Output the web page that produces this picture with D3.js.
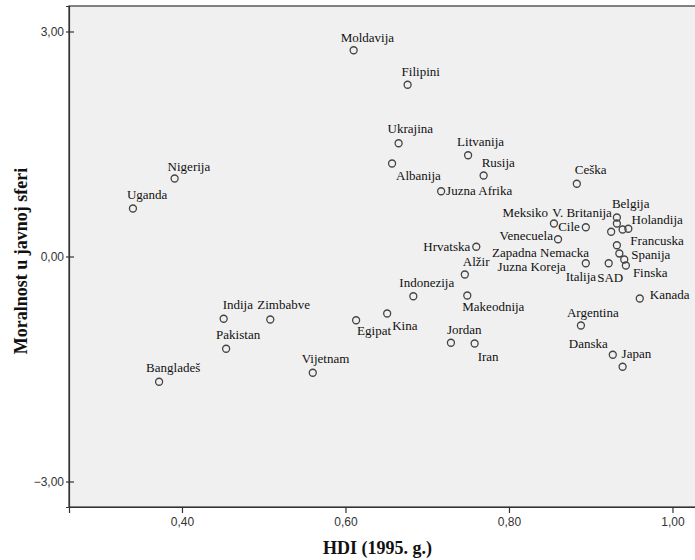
<!DOCTYPE html>
<html>
<head>
<meta charset="utf-8">
<script src="https://cdn.jsdelivr.net/npm/d3@7"></script>
<style>
    body { margin: 0; background: #fff; }
    svg { display: block; }
</style>
</head>
<body>
<div id="chart_div"></div>
<script>
// Countries, HDI (1995) and "Moralnost u javnoj sferi" score
const countries = [
    "Moldavija", "Filipini", "Ukrajina", "Albanija", "Litvanija", "Rusija", "Juzna Afrika",
    "Nigerija", "Uganda", "Ceška", "Meksiko", "V. Britanija", "Cile", "Venecuela",
    "Belgija", "Holandija", "Francuska", "Zapadna Nemacka", "", "Spanija", "SAD",
    "Finska", "Italija", "Juzna Koreja", "Hrvatska", "Alžir", "Indonezija", "Makeodnija",
    "Kina", "Egipat", "Jordan", "Iran", "Argentina", "Kanada", "Danska", "Japan",
    "Indija", "Zimbabve", "Pakistan", "Bangladeš", "Vijetnam"
];
const hdi = [
    0.610, 0.676, 0.665, 0.657, 0.750, 0.769, 0.717,
    0.391, 0.340, 0.883, 0.855, 0.932, 0.894, 0.860,
    0.932, 0.939, 0.946, 0.925, 0.932, 0.935, 0.941,
    0.943, 0.922, 0.894, 0.760, 0.746, 0.683, 0.749,
    0.651, 0.613, 0.729, 0.758, 0.888, 0.960, 0.927, 0.939,
    0.451, 0.508, 0.454, 0.372, 0.560
];
const morality = [
    2.75, 2.29, 1.51, 1.24, 1.35, 1.08, 0.87,
    1.04, 0.64, 0.97, 0.44, 0.44, 0.39, 0.23,
    0.52, 0.36, 0.37, 0.33, 0.15, 0.04, -0.04,
    -0.12, -0.09, -0.09, 0.13, -0.24, -0.53, -0.52,
    -0.76, -0.85, -1.15, -1.16, -0.92, -0.56, -1.31, -1.47,
    -0.83, -0.84, -1.23, -1.67, -1.55
];
const xTicks = [0.4, 0.6, 0.8, 1.0];
const yTicks = [-3, 0, 3];

// label placement (text-anchor, dx, dy in px from the point), like SPSS put them
const labelPlace = {
    "Moldavija": ["start", -13, -8], "Filipini": ["start", -6, -9], "Ukrajina": ["start", -11, -10],
    "Albanija": ["start", 4, 16], "Litvanija": ["start", -11, -9], "Rusija": ["start", -2, -9],
    "Juzna Afrika": ["start", 5, 4], "Nigerija": ["start", -7, -8], "Uganda": ["start", -6, -10],
    "Ceška": ["start", -2, -10], "Meksiko": ["end", -6, -7], "V. Britanija": ["end", -5, -7],
    "Cile": ["end", -6, 4], "Venecuela": ["end", -5, 1], "Belgija": ["start", -5, -10],
    "Holandija": ["start", 9, -6], "Francuska": ["start", 2, 16], "Zapadna Nemacka": ["end", -22, 25],
    "Spanija": ["start", 12, 5], "SAD": ["start", -27, 22], "Finska": ["start", 7, 11],
    "Italija": ["start", -43, 18], "Juzna Koreja": ["end", -20, 8], "Hrvatska": ["end", -6, 4],
    "Alžir": ["start", -2, -9], "Indonezija": ["start", -14, -9], "Makeodnija": ["start", -5, 15],
    "Kina": ["start", 5, 16], "Egipat": ["start", 1, 15], "Jordan": ["start", -4, -9],
    "Iran": ["start", 3, 17], "Argentina": ["start", -14, -9], "Kanada": ["start", 10, 0],
    "Danska": ["start", -44, -7], "Japan": ["start", -1, -9], "Indija": ["start", -1, -10],
    "Zimbabve": ["start", -13, -11], "Pakistan": ["start", -10, -10], "Bangladeš": ["start", -13, -10],
    "Vijetnam": ["start", -11, -10]
};

const width = 695, height = 560;
const margin = { top: 6, right: -2, bottom: 53, left: 69 };
const innerW = width - margin.left - margin.right;
const innerH = height - margin.top - margin.bottom;

const points = countries.map((c, i) => ({ name: c, x: hdi[i], y: morality[i] }));

const svg = d3.select("#chart_div").append("svg")
    .attr("width", width)
    .attr("height", height);

const x = d3.scaleLinear().domain([0.2618, 1.03]).range([0, innerW]);
const y = d3.scaleLinear().domain([-3.34, 3.34]).range([innerH, 0]);

const g = svg.append("g").attr("transform", `translate(${margin.left},${margin.top})`);

// plot background + frame
g.append("rect")
    .attr("width", innerW)
    .attr("height", innerH)
    .attr("fill", "#f0f0f0")
    .attr("stroke", "#333")
    .attr("stroke-width", 1.2);

// axes
const fmt = d => d3.format(".2f")(d).replace(".", ",");

const xAxis = g.append("g")
    .attr("transform", `translate(0,${innerH})`)
    .call(d3.axisBottom(x).tickValues(xTicks).tickFormat(fmt).tickSize(6).tickPadding(4));

const yAxis = g.append("g")
    .call(d3.axisLeft(y).tickValues(yTicks).tickFormat(fmt).tickSize(3).tickPadding(2));

yAxis.selectAll(".tick line").attr("x2", 5).attr("x1", -3);

[xAxis, yAxis].forEach(ax => {
    ax.select(".domain").attr("stroke", "#333").attr("stroke-width", 1.2);
    ax.selectAll(".tick line").attr("stroke", "#333").attr("stroke-width", 1.2);
    ax.selectAll("text")
        .attr("fill", "#333")
        .style("font-family", "'Liberation Sans', Arial, sans-serif")
        .style("font-size", "12px");
});

// points
g.append("g")
    .selectAll("circle")
    .data(points)
    .join("circle")
    .attr("cx", d => x(d.x))
    .attr("cy", d => y(d.y))
    .attr("r", 3.5)
    .attr("fill", "none")
    .attr("stroke", "#444")
    .attr("stroke-width", 1.3);

// point labels
g.append("g")
    .selectAll("text")
    .data(points.filter(d => d.name !== ""))
    .join("text")
    .attr("x", d => x(d.x) + labelPlace[d.name][1])
    .attr("y", d => y(d.y) + labelPlace[d.name][2])
    .attr("text-anchor", d => labelPlace[d.name][0])
    .style("font-family", "'Liberation Serif', 'Times New Roman', serif")
    .style("font-size", "13px")
    .attr("fill", "#111")
    .text(d => d.name);

// axis titles
svg.append("text")
    .attr("x", margin.left + (672 - margin.left + 10) / 2 + 2)
    .attr("y", 554)
    .attr("text-anchor", "middle")
    .style("font-family", "'Liberation Serif', 'Times New Roman', serif")
    .style("font-weight", "bold")
    .style("font-size", "18px")
    .attr("fill", "#111")
    .text("HDI (1995. g.)");

svg.append("text")
    .attr("transform", `translate(27,261) rotate(-90)`)
    .attr("text-anchor", "middle")
    .style("font-family", "'Liberation Serif', 'Times New Roman', serif")
    .style("font-weight", "bold")
    .style("font-size", "18px")
    .attr("fill", "#111")
    .text("Moralnost u javnoj sferi");
</script>
</body>
</html>
